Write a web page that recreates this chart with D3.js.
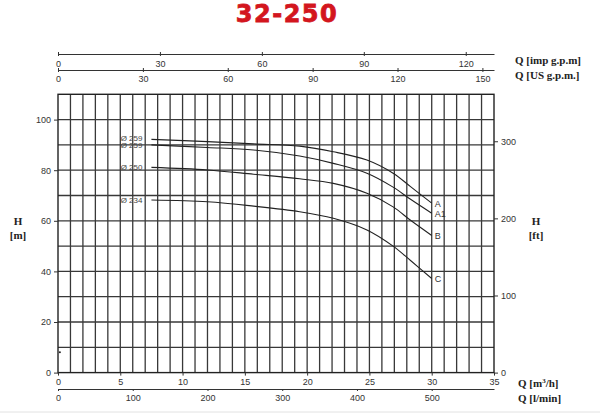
<!DOCTYPE html>
<html lang="en">
<head>
    <meta charset="UTF-8">
    <script src="https://d3js.org/d3.v7.min.js"></script>
    <style>
        body { margin: 0; background: #fff; }
        .grid line { stroke: #383838; stroke-width: 1.3px; }
        .axis text { font-family: "Liberation Sans", Arial, sans-serif; font-size: 9px; fill: #333; }
        .axis line, .axis path { stroke: #333; stroke-width: 1px; }
        .unit { font-family: "Liberation Serif", "Times New Roman", serif; font-weight: bold; font-size: 11px; fill: #222; }
        .curve { fill: none; stroke: #222; stroke-width: 1.1px; }
        .dia { font-family: "Liberation Sans", Arial, sans-serif; font-size: 8px; fill: #444; }
        .tag { font-family: "Liberation Sans", Arial, sans-serif; font-size: 9px; fill: #333; }
    </style>
</head>
<body>
<script>
    // flow in m3/h, head in m
    const flow = [7.5, 12, 15.7, 19.4, 22.1, 24.8, 26.9, 28.3, 30];
    const headA = [92.2, 91.3, 90.4, 89.5, 87.3, 84.0, 78.8, 73.5, 67.0];
    const headA1 = [90.0, 89.0, 88.0, 85.6, 82.7, 78.8, 73.3, 68.5, 63.0];
    const headB = [81.1, 80.1, 78.4, 76.6, 74.8, 70.9, 65.5, 60.2, 54.2];
    const headC = [68.2, 67.5, 65.8, 63.6, 61.0, 56.4, 50.0, 44.3, 37.2];

    const curveNames = ['A', 'A1', 'B', 'C'];
    const diameters = ['Ø 259', 'Ø 259', 'Ø 250', 'Ø 234'];

    const m3hTicks = [0, 5, 10, 15, 20, 25, 30, 35];
    const lminTicks = [0, 100, 200, 300, 400, 500];
    const usTicks = [0, 30, 60, 90, 120, 150];
    const impTicks = [0, 30, 60, 90, 120];
    const mTicks = [0, 20, 40, 60, 80, 100];
    const ftTicks = [0, 100, 200, 300];

    const width = 600;
    const height = 415;
    const pL = 58, pR = 494, pT = 94.3, pB = 372.6;

    const svg = d3.select('body').append('svg')
        .attr('width', width)
        .attr('height', height);

    const x = d3.scaleLinear().domain([0, 35]).range([pL, pR]);
    const y = d3.scaleLinear().domain([0, 110]).range([pB, pT]);
    const yFt = d3.scaleLinear().domain([0, 110 / 0.3048]).range([pB, pT]);
    const xUS = d3.scaleLinear().domain([0, 35 * 4.4029]).range([pL, pR]);
    const xImp = d3.scaleLinear().domain([0, 35 * 3.6662]).range([pL, pR]);
    const xLmin = d3.scaleLinear().domain([0, 35 * 1000 / 60]).range([pL, pR]);

    // title
    svg.append('text')
        .attr('x', 287).attr('y', 22)
        .attr('text-anchor', 'middle')
        .style('font-family', '"DejaVu Sans", sans-serif')
        .style('font-weight', 'bold')
        .style('font-size', '24px')
        .style('letter-spacing', '1.5px')
        .style('fill', '#d3161e')
        .style('stroke', '#d3161e')
        .style('stroke-width', '0.8px')
        .text('32-250');

    // grid
    const grid = svg.append('g').attr('class', 'grid');
    grid.selectAll('.v').data(d3.range(1, 35)).enter()
        .append('line')
        .attr('x1', d => x(d)).attr('x2', d => x(d))
        .attr('y1', pT).attr('y2', pB);
    grid.selectAll('.h').data(d3.range(10, 110, 10)).enter()
        .append('line')
        .attr('x1', pL).attr('x2', pR)
        .attr('y1', d => y(d)).attr('y2', d => y(d));

    svg.append('rect')
        .attr('x', pL).attr('y', pT)
        .attr('width', pR - pL).attr('height', pB - pT)
        .attr('fill', 'none').attr('stroke', '#222').attr('stroke-width', 1.4);

    // axes
    const ax = (g, axis) => g.attr('class', 'axis').call(axis);

    ax(svg.append('g').attr('transform', `translate(${pL},0)`),
        d3.axisLeft(y).tickValues(mTicks).tickSize(4).tickPadding(3))
        .select('.domain').remove();
    ax(svg.append('g').attr('transform', `translate(${pR},0)`),
        d3.axisRight(yFt).tickValues(ftTicks).tickSize(4).tickPadding(3))
        .select('.domain').remove();

    ax(svg.append('g').attr('transform', `translate(0,${pB})`),
        d3.axisBottom(x).tickValues(m3hTicks).tickSize(3).tickPadding(3))
        .select('.domain').remove();
    ax(svg.append('g').attr('transform', 'translate(0,389)'),
        d3.axisBottom(xLmin).tickValues(lminTicks).tickSize(2).tickSizeOuter(0).tickPadding(4));

    const topImp = ax(svg.append('g').attr('transform', 'translate(0,54)'),
        d3.axisBottom(xImp).tickValues(impTicks).tickSize(2).tickSizeOuter(0).tickPadding(5));
    const topUS = ax(svg.append('g').attr('transform', 'translate(0,70)'),
        d3.axisBottom(xUS).tickValues(usTicks).tickSize(2).tickSizeOuter(0).tickPadding(4));
    topImp.selectAll('.tick line').attr('y1', -2);
    topUS.selectAll('.tick line').attr('y1', -2);

    // unit labels
    const units = [
        ['Q [imp g.p.m]', 515, 64],
        ['Q [US g.p.m.]', 515, 79],
        ['H', 18, 225],
        ['[m]', 18, 239],
        ['H', 536, 225],
        ['[ft]', 536, 239]
    ];
    svg.selectAll('.unit').data(units).enter()
        .append('text')
        .attr('class', 'unit')
        .attr('x', d => d[1]).attr('y', d => d[2])
        .attr('text-anchor', d => d[0].startsWith('Q') ? 'start' : 'middle')
        .text(d => d[0]);

    const qm = svg.append('text').attr('class', 'unit').attr('x', 518).attr('y', 387);
    qm.append('tspan').text('Q [m');
    qm.append('tspan').attr('dy', -4).style('font-size', '7px').text('3');
    qm.append('tspan').attr('dy', 4).text('/h]');
    svg.append('text').attr('class', 'unit').attr('x', 518).attr('y', 402).text('Q [l/min]');

    // curves
    const heads = [headA, headA1, headB, headC];
    const line = d3.line()
        .x(d => x(d[0]))
        .y(d => y(d[1]))
        .curve(d3.curveCatmullRom.alpha(0.5));

    heads.forEach((h, i) => {
        const pts = flow.map((q, j) => [q, h[j]]);
        svg.append('path')
            .attr('class', 'curve')
            .attr('d', line(pts));
        svg.append('text')
            .attr('class', 'dia')
            .attr('x', x(flow[0]) - 9)
            .attr('y', y(h[0]) + (i === 0 ? 1.5 : 3))
            .attr('text-anchor', 'end')
            .text(diameters[i]);
        svg.append('text')
            .attr('class', 'tag')
            .attr('x', x(flow[flow.length - 1]) + 3)
            .attr('y', y(h[h.length - 1]) + 4)
            .text(curveNames[i]);
    });

    // small mark near origin
    svg.append('circle')
        .attr('cx', x(0.15)).attr('cy', y(8))
        .attr('r', 1).attr('fill', '#222');

    svg.append('line')
        .attr('x1', 0).attr('x2', width)
        .attr('y1', 412).attr('y2', 412)
        .attr('stroke', '#e2e2e2');
</script>
</body>
</html>
